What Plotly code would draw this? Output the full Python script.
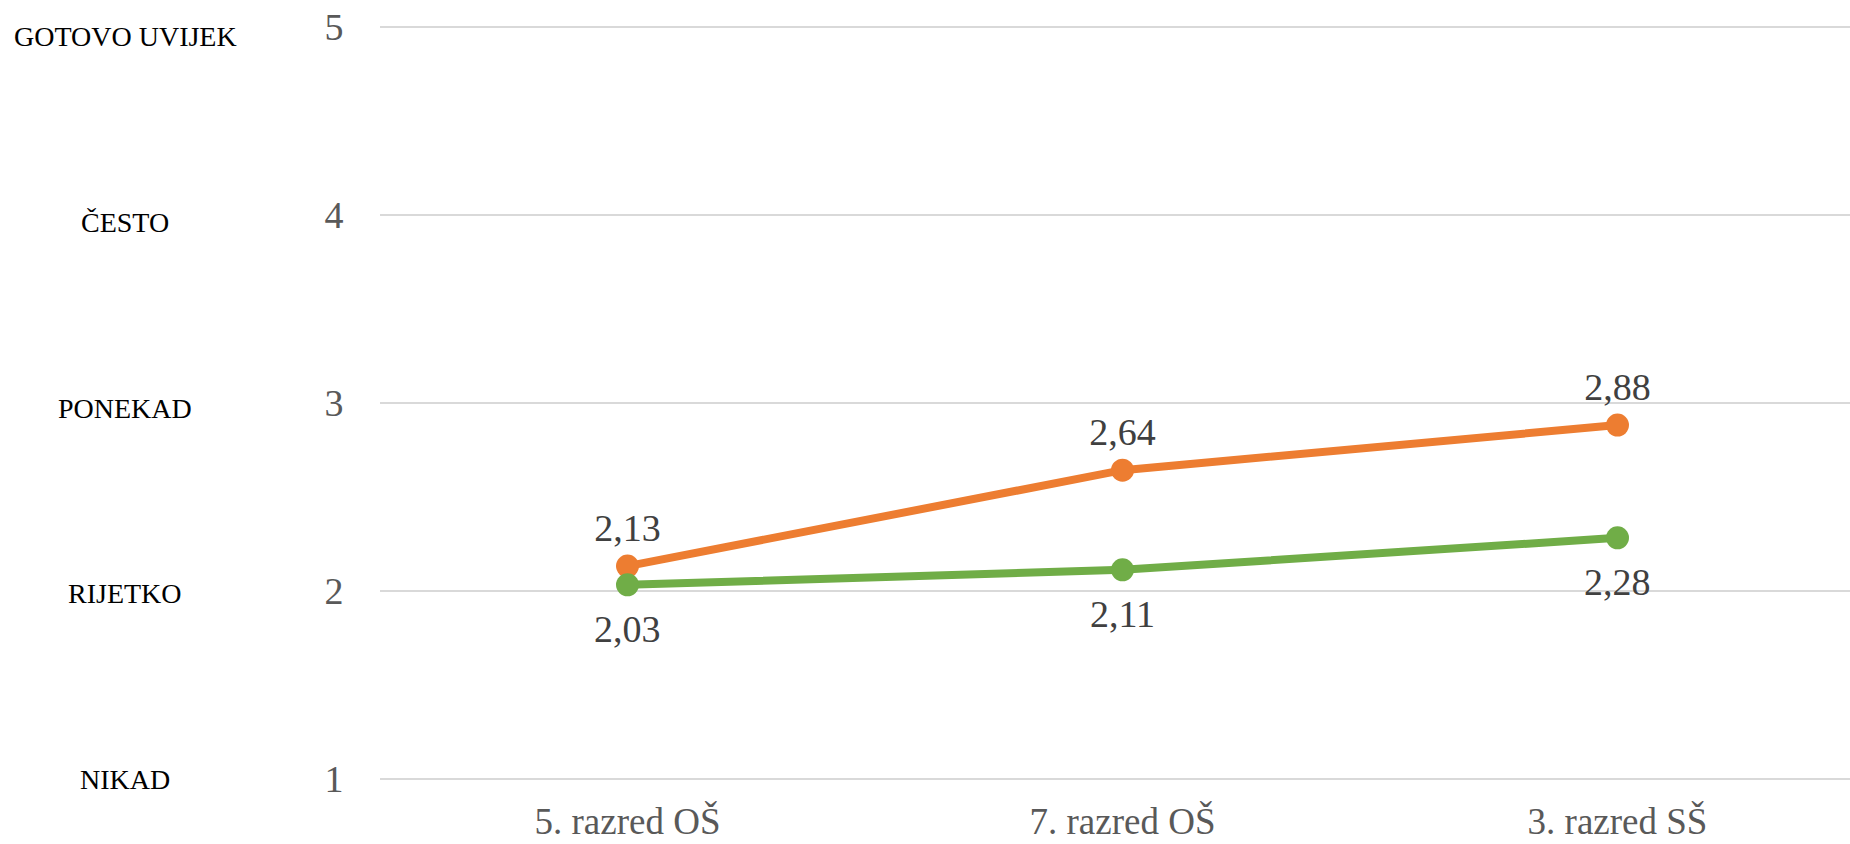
import plotly.graph_objects as go

categories = ["5. razred OŠ", "7. razred OŠ", "3. razred SŠ"]
series_orange = [2.13, 2.64, 2.88]
series_green = [2.03, 2.11, 2.28]
y_ticks = [1, 2, 3, 4, 5]
scale_labels = ["NIKAD", "RIJETKO", "PONEKAD", "ČESTO", "GOTOVO UVIJEK"]

ORANGE = "#ED7D31"
GREEN = "#70AD47"
FONT = "Liberation Serif, Cambria, serif"


def fmt(v):
    return f"{v:.2f}".replace(".", ",")


fig = go.Figure()
fig.add_trace(go.Scatter(
    x=categories, y=series_orange, mode="lines+markers+text",
    name="Serija 1",
    line=dict(color=ORANGE, width=8),
    marker=dict(color=ORANGE, size=23),
    texttemplate="%{y:.2f}", textposition="top center",
    textfont=dict(family=FONT, size=38, color="#404040"),
    cliponaxis=False, hoverinfo="skip",
))
fig.add_trace(go.Scatter(
    x=categories, y=series_green, mode="lines+markers",
    name="Serija 2",
    line=dict(color=GREEN, width=8),
    marker=dict(color=GREEN, size=23),
    cliponaxis=False, hoverinfo="skip",
))
# data labels for the green series, placed below the points
for c, v in zip(categories, series_green):
    fig.add_annotation(
        x=c, y=v, xref="x", yref="y", text=fmt(v), showarrow=False,
        xanchor="center", yanchor="middle", yshift=-44,
        font=dict(family=FONT, size=38, color="#404040"),
    )

label_shift = [-1, -3, -6, -8, -10]
W, H = 1850, 844
left, right = 380, 0
for lvl, txt, sh in zip(y_ticks, scale_labels, label_shift):
    fig.add_annotation(
        x=(125 - left) / (W - left - right), xref="paper", y=lvl, yref="y",
        text=txt, showarrow=False,
        xanchor="center", yanchor="middle", yshift=sh,
        font=dict(family=FONT, size=28, color="#000000"),
    )

top, bottom = 20, 844 - 785
ppu = 188.0
fig.update_layout(
    width=W, height=H,
    margin=dict(l=left, r=right, t=top, b=bottom, pad=0, autoexpand=False),
    paper_bgcolor="white", plot_bgcolor="white",
    showlegend=False,
    separators=", ",
    font=dict(family=FONT),
    xaxis=dict(
        type="category", automargin=False,
        range=[-0.5, -0.5 + (W - left - right) / 495.0],
        showgrid=False, zeroline=False, showline=False,
        ticks="outside", ticklen=4, tickcolor="rgba(0,0,0,0)",
        tickfont=dict(family=FONT, size=37, color="#595959"),
    ),
    yaxis=dict(
        automargin=False,
        range=[1 - (785 - 778.5) / ppu, 5 + (26.5 - 20) / ppu],
        tickvals=y_ticks,
        showgrid=True, gridcolor="#D9D9D9", gridwidth=1.5,
        zeroline=False, showline=False,
        ticks="outside", ticklen=28, tickcolor="rgba(0,0,0,0)",
        tickfont=dict(family=FONT, size=38, color="#595959"),
    ),
)

fig.write_html(
    "out.html",
    config={"displayModeBar": False},
    post_script="document.body.style.margin='0';document.body.style.overflow='hidden';",
)
